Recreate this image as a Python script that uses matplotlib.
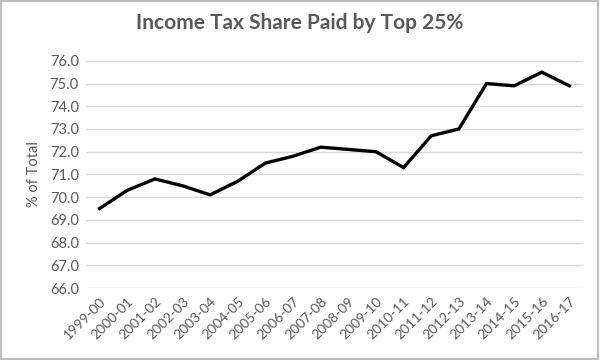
import matplotlib
matplotlib.use("Agg")
import matplotlib.pyplot as plt
from matplotlib.patches import Rectangle

years = ["1999-00", "2000-01", "2001-02", "2002-03", "2003-04", "2004-05",
         "2005-06", "2006-07", "2007-08", "2008-09", "2009-10", "2010-11",
         "2011-12", "2012-13", "2013-14", "2014-15", "2015-16", "2016-17"]
share = [69.5, 70.3, 70.8, 70.5, 70.1, 70.7, 71.5, 71.8, 72.2, 72.1,
         72.0, 71.3, 72.7, 73.0, 75.0, 74.9, 75.5, 74.9]
yticks = [66.0, 67.0, 68.0, 69.0, 70.0, 71.0, 72.0, 73.0, 74.0, 75.0, 76.0]

plt.rcParams['font.family'] = ['Lato', 'DejaVu Sans']
grey = "#595959"

fig = plt.figure(figsize=(6, 3.6), dpi=100)
ax = fig.add_axes([0.143, 0.2, 0.829, 0.631])

ax.plot(range(len(years)), share, color="black", linewidth=2.4, solid_joinstyle="miter")

ax.set_xlim(-0.5, len(years) - 0.5)
ax.set_ylim(66, 76)
ax.set_yticks(yticks)
ax.set_yticklabels([f"{v:.1f}" for v in yticks], color=grey, fontsize=10.5)
ax.set_xticks(range(len(years)))
ax.set_xticklabels(years, rotation=45, ha="right", rotation_mode="anchor",
                   color=grey, fontsize=10)
ax.tick_params(length=0, pad=5)
ax.grid(axis="y", color="#d9d9d9", linewidth=1)
ax.set_axisbelow(True)
for s in ax.spines.values():
    s.set_visible(False)

ax.set_ylabel("% of Total", color=grey, fontsize=10.5, labelpad=6)
fig.text(0.5, 0.935, "Income Tax Share Paid by Top 25%", ha="center", va="center",
         fontsize=15, color=grey, fontweight="bold")

fig.patches.append(Rectangle((0.002, 0.003), 0.995, 0.994, transform=fig.transFigure,
                             fill=False, edgecolor="#bfbfbf", linewidth=1.5))

fig.savefig("out.png", dpi=100)
